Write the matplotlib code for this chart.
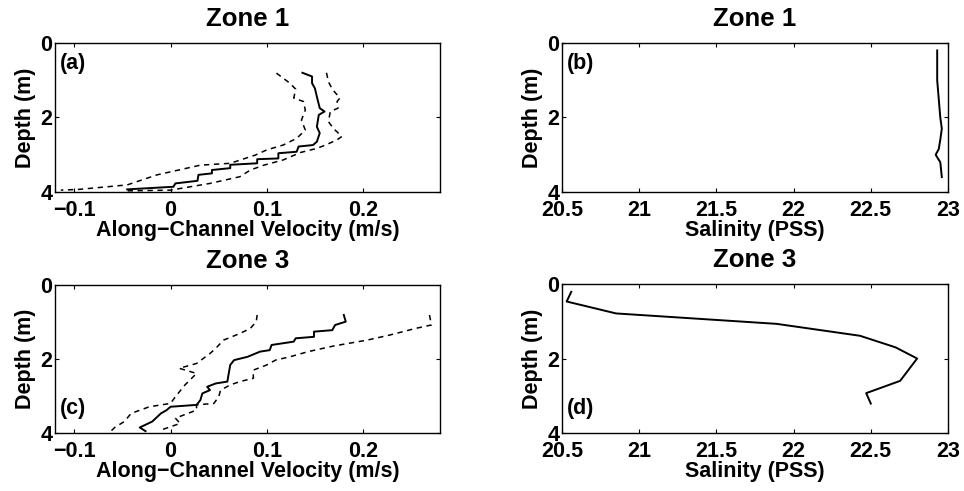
import numpy as np
import matplotlib
matplotlib.use('Agg')
import matplotlib.pyplot as plt
from matplotlib.ticker import FuncFormatter

# ==========================================
# 1. Data
# ==========================================
# Zone 1 along-channel velocity (m/s) vs depth (m)
z1_mean_depth = [0.80, 0.90, 1.08, 1.22, 1.44, 1.75, 1.84, 1.93, 2.25, 2.42, 2.65, 2.74, 2.78,
                 2.92, 2.96, 3.10, 3.12, 3.23, 3.27, 3.36, 3.41, 3.50, 3.54, 3.70, 3.77, 3.86, 3.93]
z1_mean_vel = [0.137, 0.147, 0.147, 0.150, 0.152, 0.155, 0.160, 0.154, 0.152, 0.155, 0.152, 0.148, 0.133,
               0.131, 0.112, 0.112, 0.090, 0.090, 0.062, 0.062, 0.043, 0.043, 0.029, 0.028, 0.005, 0.003, -0.045]

z1_low_depth = [0.81, 1.08, 1.24, 1.48, 1.57, 1.80, 2.07, 2.34, 2.56, 2.74, 2.87, 3.01,
                3.23, 3.28, 3.54, 3.81, 3.93, 3.95]
z1_low_vel = [0.110, 0.124, 0.130, 0.128, 0.138, 0.140, 0.136, 0.140, 0.131, 0.117, 0.100, 0.088,
              0.062, 0.031, -0.014, -0.045, -0.095, -0.114]

z1_high_depth = [0.80, 1.04, 1.24, 1.48, 1.57, 1.75, 1.84, 2.11, 2.29, 2.51, 2.60, 2.74, 2.83,
                 2.94, 3.14, 3.28, 3.41, 3.59, 3.77, 3.95, 3.97]
z1_high_vel = [0.162, 0.164, 0.168, 0.176, 0.173, 0.174, 0.166, 0.164, 0.169, 0.178, 0.173, 0.161, 0.152,
               0.135, 0.117, 0.097, 0.083, 0.072, 0.041, 0.000, -0.045]

# Zone 3 along-channel velocity (m/s) vs depth (m)
z3_mean_depth = [0.81, 0.99, 1.08, 1.22, 1.26, 1.40, 1.44, 1.53, 1.62, 1.76, 1.80, 1.94, 2.03,
                 2.16, 2.61, 2.66, 2.75, 2.84, 2.93, 3.11, 3.24, 3.29, 3.38, 3.47, 3.69, 3.85, 3.95]
z3_mean_vel = [0.180, 0.182, 0.171, 0.168, 0.149, 0.149, 0.130, 0.128, 0.105, 0.103, 0.093, 0.080, 0.066,
               0.062, 0.059, 0.047, 0.038, 0.041, 0.033, 0.031, 0.027, 0.000, -0.004, -0.010, -0.019, -0.032, -0.026]

z3_low_depth = [0.81, 0.99, 1.17, 1.31, 1.49, 1.71, 1.85, 2.12, 2.25, 2.39, 2.70, 3.02, 3.20,
                3.29, 3.47, 3.69, 3.85, 3.95]
z3_low_vel = [0.090, 0.089, 0.083, 0.072, 0.055, 0.047, 0.041, 0.027, 0.009, 0.027, 0.015, 0.005, 0.000,
              -0.022, -0.041, -0.048, -0.058, -0.062]

z3_high_depth = [0.81, 1.08, 1.17, 1.35, 1.49, 1.65, 1.80, 1.94, 2.03, 2.16, 2.30, 2.52, 2.61, 2.70,
                 2.84, 3.02, 3.20, 3.24, 3.38, 3.60, 3.74, 3.92]
z3_high_vel = [0.269, 0.271, 0.255, 0.228, 0.204, 0.169, 0.143, 0.124, 0.109, 0.100, 0.086, 0.086, 0.072,
               0.062, 0.052, 0.050, 0.045, 0.027, 0.027, 0.005, 0.010, -0.010]

# Salinity (PSS) vs depth (m)
z1_sal_depth = [0.20, 0.60, 1.00, 1.50, 2.00, 2.30, 2.60, 2.85, 3.00, 3.20, 3.60]
z1_sal = [22.93, 22.93, 22.93, 22.94, 22.95, 22.96, 22.95, 22.94, 22.92, 22.95, 22.96]

z3_sal_depth = [0.21, 0.47, 0.79, 1.07, 1.39, 1.70, 2.00, 2.60, 2.93, 3.21]
z3_sal = [20.56, 20.53, 20.85, 21.89, 22.43, 22.66, 22.80, 22.69, 22.47, 22.50]

vel_ticks = [-0.1, 0, 0.1, 0.2]
sal_ticks = [20.5, 21, 21.5, 22, 22.5, 23]
depth_ticks = [0, 2, 4]

# ==========================================
# 2. Style
# ==========================================
plt.rcParams['font.family'] = ['Liberation Sans', 'DejaVu Sans']
plt.rcParams['font.weight'] = 'bold'
plt.rcParams['font.size'] = 15.5
plt.rcParams['axes.titleweight'] = 'bold'
plt.rcParams['axes.labelweight'] = 'bold'

DASH = (0, (3.5, 3))


def style_axes(ax, xlim, xticks, xlabel, title, letter, letter_depth):
    ax.set_xlim(*xlim)
    ax.set_ylim(4, 0)
    ax.set_xticks(xticks)
    ax.set_yticks(depth_ticks)
    ax.xaxis.set_major_formatter(FuncFormatter(lambda v, p: ('%g' % v).replace('-', '\u2212')))
    ax.tick_params(direction='in', length=3, width=0.8, top=True, right=True)
    ax.tick_params(axis='x', pad=6)
    ax.tick_params(axis='y', pad=2)
    for sp in ax.spines.values():
        sp.set_linewidth(1.0)
    ax.set_xlabel(xlabel, labelpad=-1)
    ax.set_ylabel('Depth (m)', labelpad=3)
    ax.set_title(title, pad=12)
    ax.text(xlim[0] + 0.012 * (xlim[1] - xlim[0]), letter_depth, letter, va='center', ha='left')


# ==========================================
# 3. Figure
# ==========================================
fig = plt.figure(figsize=(9.64, 4.91), dpi=100)
ax_a = fig.add_axes([0.0571, 0.6090, 0.3994, 0.3035])
ax_b = fig.add_axes([0.5830, 0.6090, 0.4004, 0.3035])
ax_c = fig.add_axes([0.0571, 0.1181, 0.3994, 0.3014])
ax_d = fig.add_axes([0.5830, 0.1181, 0.4004, 0.3035])

vel_label = 'Along\u2212Channel Velocity (m/s)'

# (a) Zone 1 velocity
ax_a.plot(z1_mean_vel, z1_mean_depth, color='k', lw=1.4)
ax_a.plot(z1_low_vel, z1_low_depth, color='k', lw=1.1, ls=DASH)
ax_a.plot(z1_high_vel, z1_high_depth, color='k', lw=1.1, ls=DASH)
style_axes(ax_a, (-0.12, 0.28), vel_ticks, vel_label, 'Zone 1', '(a)', 0.55)

# (b) Zone 1 salinity
ax_b.plot(z1_sal, z1_sal_depth, color='k', lw=1.4)
style_axes(ax_b, (20.5, 23), sal_ticks, 'Salinity (PSS)', 'Zone 1', '(b)', 0.55)

# (c) Zone 3 velocity
ax_c.plot(z3_mean_vel, z3_mean_depth, color='k', lw=1.4)
ax_c.plot(z3_low_vel, z3_low_depth, color='k', lw=1.1, ls=DASH)
ax_c.plot(z3_high_vel, z3_high_depth, color='k', lw=1.1, ls=DASH)
style_axes(ax_c, (-0.12, 0.28), vel_ticks, vel_label, 'Zone 3', '(c)', 3.35)

# (d) Zone 3 salinity
ax_d.plot(z3_sal, z3_sal_depth, color='k', lw=1.4)
style_axes(ax_d, (20.5, 23), sal_ticks, 'Salinity (PSS)', 'Zone 3', '(d)', 3.35)

fig.savefig('out.png', dpi=100)
